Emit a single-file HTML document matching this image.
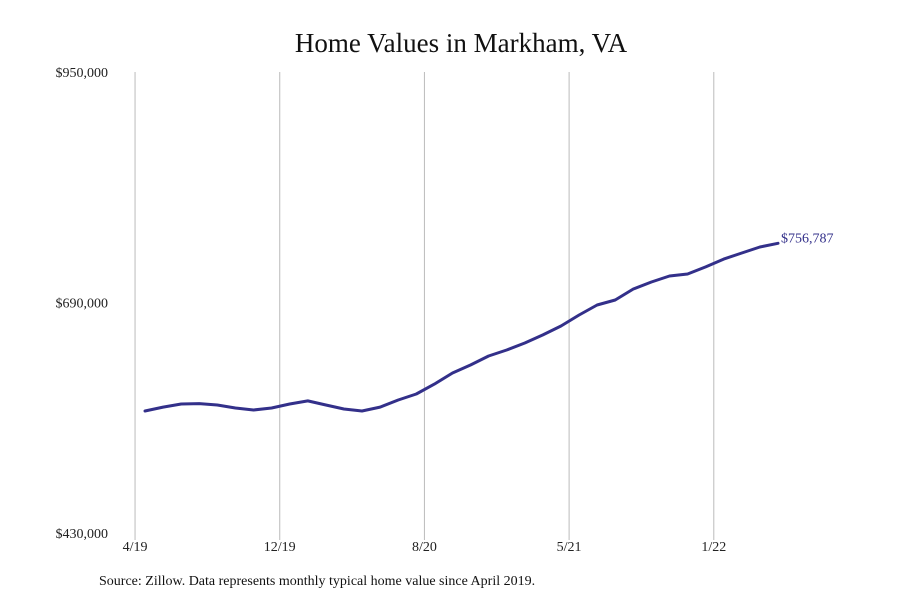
<!DOCTYPE html>
<html><head><meta charset="utf-8"><style>
body{margin:0;background:#fff;}
svg{display:block;font-family:"Liberation Serif",serif;}
</style></head><body>
<svg id="chart" width="900" height="600">
<rect width="900" height="600" fill="#fff"/>
<text x="461" y="52" text-anchor="middle" font-size="27" fill="#111">Home Values in Markham, VA</text>
<g id="grid"></g>
<g id="yaxis"></g>
<g id="xaxis"></g>
<g id="series"></g>
<text x="99" y="585" font-size="14" fill="#111">Source: Zillow. Data represents monthly typical home value since April 2019.</text>
</svg>
<script>
const values=[567600,572000,575500,576000,574400,571000,568700,571000,575500,579000,574400,569900,567600,572000,580000,586800,598000,610500,619500,629700,636400,644300,653400,663500,675900,687200,692800,705200,713100,719900,722200,730100,739000,745800,752600,756787];
const xTickLabels=["4/19","12/19","8/20","5/21","1/22"];
const xTickIndex=[-0.55,7.45,15.45,23.45,31.45];
const yTickLabels=["$950,000","$690,000","$430,000"];
const yTickValues=[950000,690000,430000];
const lastLabel="$756,787";
(function(){
const NS="http://www.w3.org/2000/svg";
const yMin=430000,yMax=950000,plotTop=72,plotBottom=533;
const y=v=>plotBottom-(v-yMin)/(yMax-yMin)*(plotBottom-plotTop);
const x=i=>145+i*(633/35);
function mk(tag,attrs,parent,text){const e=document.createElementNS(NS,tag);for(const k in attrs)e.setAttribute(k,attrs[k]);if(text!==undefined)e.textContent=text;parent.appendChild(e);return e;}
const grid=document.getElementById('grid'),xa=document.getElementById('xaxis'),ya=document.getElementById('yaxis'),se=document.getElementById('series');
xTickIndex.forEach((t,k)=>{
  const l=mk('line',{x1:x(t),x2:x(t),y1:plotTop,y2:540,stroke:'#bbb','stroke-width':1},grid);
  
  
  const tx=mk('text',{x:x(t),y:551,'text-anchor':'middle','font-size':14,fill:'#222'},xa,xTickLabels[k]);
  
  
});
yTickValues.forEach((v,k)=>{
  const tx=mk('text',{x:108,y:y(v)+5,'text-anchor':'end','font-size':14,fill:'#222'},ya,yTickLabels[k]);
  
  
});
const pts=values.map((v,i)=>x(i).toFixed(1)+','+y(v).toFixed(1)).join(' ');
const pl=mk('polyline',{points:pts,fill:'none',stroke:'#33308a','stroke-width':3,'stroke-linejoin':'round','stroke-linecap':'round'},se);


const n=values.length-1;
const lb=mk('text',{x:x(n)+3,y:y(values[n])-1,'font-size':14,fill:'#33308a'},se,lastLabel);


})();
</script>
</body></html>
